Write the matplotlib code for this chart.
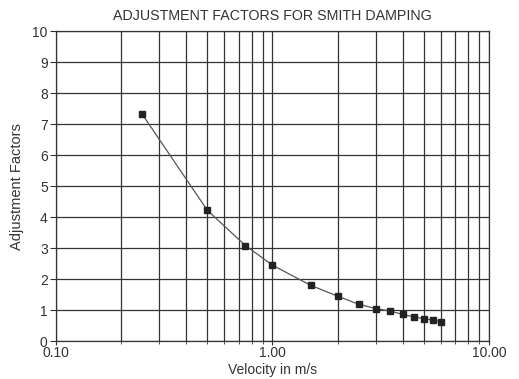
import matplotlib
matplotlib.use("Agg")
import matplotlib.pyplot as plt
from matplotlib.ticker import FixedLocator, FixedFormatter, LogLocator, NullFormatter

plt.rcParams['font.family'] = ['Liberation Sans', 'DejaVu Sans']

velocity = [0.25, 0.5, 0.75, 1.0, 1.5, 2.0, 2.5, 3.0, 3.5, 4.0, 4.5, 5.0, 5.5, 6.0]
factors = [7.32, 4.22, 3.08, 2.45, 1.80, 1.45, 1.19, 1.05, 0.97, 0.86, 0.78, 0.72, 0.68, 0.62]
x_ticks = [0.1, 1.0, 10.0]
x_tick_labels = ["0.10", "1.00", "10.00"]
y_ticks = list(range(0, 11))

fig = plt.figure(figsize=(5.19, 3.79), dpi=100)
ax = fig.add_axes([0.108, 0.100, 0.834, 0.818])
ax.set_xscale('log')
ax.set_xlim(0.1, 10)
ax.set_ylim(0, 10)

ax.xaxis.set_major_locator(FixedLocator(x_ticks))
ax.xaxis.set_major_formatter(FixedFormatter(x_tick_labels))
ax.xaxis.set_minor_locator(LogLocator(base=10, subs=range(2, 10)))
ax.xaxis.set_minor_formatter(NullFormatter())
ax.set_yticks(y_ticks)

ax.grid(True, which='both', axis='x', color='#333333', linewidth=0.9)
ax.grid(True, which='major', axis='y', color='#333333', linewidth=0.9)

ax.plot(velocity, factors, color='#555555', linewidth=0.9,
        marker='s', markersize=4.5, markerfacecolor='#222222',
        markeredgecolor='#222222', zorder=3)

for s in ax.spines.values():
    s.set_color('#333333')
    s.set_linewidth(0.9)

ax.tick_params(axis='both', which='major', direction='out', length=4,
               color='#333333', labelsize=10, labelcolor='#333333', pad=2)
ax.tick_params(axis='x', which='major', length=3, pad=0.5)
ax.tick_params(axis='x', which='minor', direction='out', length=2, color='#333333')

ax.set_title("ADJUSTMENT FACTORS FOR SMITH DAMPING", fontsize=10.3, color='#333333', pad=8)
ax.set_xlabel("Velocity in m/s", fontsize=10, color='#333333')
ax.xaxis.set_label_coords(0.5, -0.072)
ax.set_ylabel("Adjustment Factors", fontsize=10.5, color='#333333', labelpad=6)

fig.savefig("out.png", dpi=100)
